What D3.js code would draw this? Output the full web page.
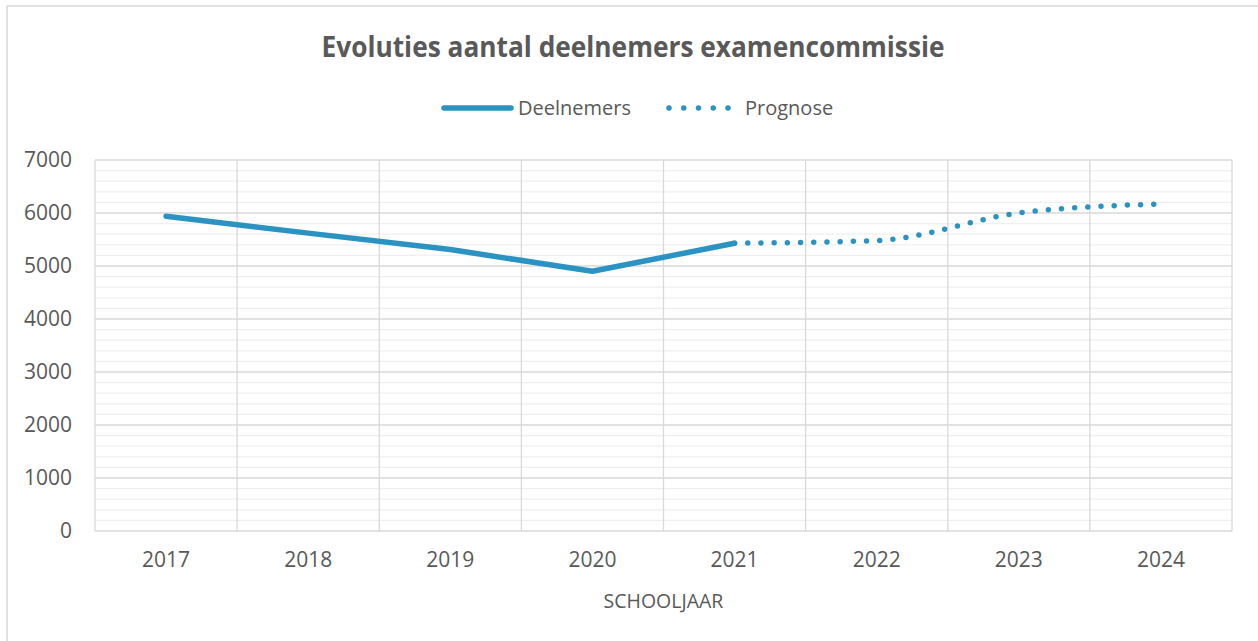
<!DOCTYPE html>
<html>
<head>
<meta charset="utf-8">
<script src="https://cdn.jsdelivr.net/npm/d3@7"></script>
<style>
  body { margin: 0; background: #fff; }
  text { font-family: "Open Sans", "Noto Sans", sans-serif; fill: #595959; }
</style>
</head>
<body>
<svg id="chart" width="1258" height="641"></svg>
<script>
// data
const years = ["2017", "2018", "2019", "2020", "2021", "2022", "2023", "2024"];
const deelnemers = [5940, 5620, 5310, 4900, 5430];          // 2017 - 2021
const prognoseYears = ["2021", "2022", "2023", "2024"];
const prognose = [5430, 5480, 6000, 6170];
const yTicks = [0, 1000, 2000, 3000, 4000, 5000, 6000, 7000];

const svg = d3.select("#chart");
const margins = { top: 160, right: 26, bottom: 110, left: 95 };
const width = +svg.attr("width");
const height = +svg.attr("height");
const plotW = width - margins.left - margins.right;
const plotH = height - margins.top - margins.bottom;
const lineColor = "#2b93c1";

// outer chart border
svg.append("rect")
    .attr("x", 7).attr("y", 6)
    .attr("width", 1262).attr("height", 650)
    .attr("fill", "none")
    .attr("stroke", "#d9d9d9")
    .attr("stroke-width", 1.5);

const xScale = d3.scaleBand().domain(years).range([0, plotW]).padding(0);
const yScale = d3.scaleLinear().domain([0, 7000]).range([plotH, 0]);

let chartArea = svg.append("g")
    .attr("transform", "translate(" + margins.left + ", " + margins.top + ")");

// minor gridlines every 200
chartArea.append("g")
    .selectAll("line")
    .data(d3.range(200, 7000, 200).filter(d => d % 1000 != 0))
    .join("line")
    .attr("x1", 0).attr("x2", plotW)
    .attr("y1", d => yScale(d)).attr("y2", d => yScale(d))
    .attr("stroke", "#efefef")
    .attr("stroke-width", 1.3);

// major gridlines
chartArea.append("g")
    .selectAll("line")
    .data(yTicks)
    .join("line")
    .attr("x1", 0).attr("x2", plotW)
    .attr("y1", d => yScale(d)).attr("y2", d => yScale(d))
    .attr("stroke", "#d9d9d9")
    .attr("stroke-width", 1.3);

// vertical gridlines at category borders
chartArea.append("g")
    .selectAll("line")
    .data(years.concat(["end"]))
    .join("line")
    .attr("x1", d => d == "end" ? plotW : xScale(d))
    .attr("x2", d => d == "end" ? plotW : xScale(d))
    .attr("y1", 0).attr("y2", plotH)
    .attr("stroke", "#d9d9d9")
    .attr("stroke-width", 1.3);

// y axis labels
const yAxis = d3.axisLeft(yScale).tickValues(yTicks).tickFormat(d3.format("d"))
    .tickSize(0).tickPadding(23);
chartArea.append("g")
    .call(yAxis)
    .call(g => g.select(".domain").remove())
    .selectAll("text")
    .style("font-size", "21px")
    .attr("fill", "#595959");

// x axis labels
const xAxis = d3.axisBottom(xScale).tickSize(0).tickPadding(21);
chartArea.append("g")
    .attr("transform", "translate(0, " + plotH + ")")
    .call(xAxis)
    .call(g => g.select(".domain").remove())
    .selectAll("text")
    .style("font-size", "21px")
    .attr("fill", "#595959");

// axis title
svg.append("text")
    .attr("x", margins.left + plotW / 2)
    .attr("y", 608)
    .attr("text-anchor", "middle")
    .style("font-size", "19.5px")
    .text("SCHOOLJAAR");

// lines
const cx = d => xScale(d) + xScale.bandwidth() / 2;

const line1 = d3.line()
    .x((d, i) => cx(years[i]))
    .y(d => yScale(d));

chartArea.append("path")
    .datum(deelnemers)
    .attr("d", line1)
    .attr("fill", "none")
    .attr("stroke", lineColor)
    .attr("stroke-width", 5.5)
    .attr("stroke-linecap", "round")
    .attr("stroke-linejoin", "round");

const line2 = d3.line()
    .x((d, i) => cx(prognoseYears[i]))
    .y(d => yScale(d))
    .curve(d3.curveMonotoneX);

chartArea.append("path")
    .datum(prognose)
    .attr("d", line2)
    .attr("fill", "none")
    .attr("stroke", lineColor)
    .attr("stroke-width", 5.5)
    .attr("stroke-linecap", "round")
    .attr("stroke-dasharray", "0 13.2");

// title
svg.append("text")
    .attr("x", 633)
    .attr("y", 57)
    .attr("text-anchor", "middle")
    .attr("textLength", 623)
    .attr("lengthAdjust", "spacingAndGlyphs")
    .style("font-size", "29px")
    .style("font-weight", "bold")
    .text("Evoluties aantal deelnemers examencommissie");

// legend
const legend = svg.append("g");
legend.append("line")
    .attr("x1", 444).attr("x2", 511)
    .attr("y1", 108).attr("y2", 108)
    .attr("stroke", lineColor)
    .attr("stroke-width", 5.5)
    .attr("stroke-linecap", "round");
legend.append("text")
    .attr("x", 518).attr("y", 115)
    .style("font-size", "20px")
    .text("Deelnemers");
legend.append("line")
    .attr("x1", 669).attr("x2", 729)
    .attr("y1", 108).attr("y2", 108)
    .attr("stroke", lineColor)
    .attr("stroke-width", 5.5)
    .attr("stroke-linecap", "round")
    .attr("stroke-dasharray", "0 14.75");
legend.append("text")
    .attr("x", 745).attr("y", 115)
    .style("font-size", "20px")
    .text("Prognose");
</script>
</body>
</html>
